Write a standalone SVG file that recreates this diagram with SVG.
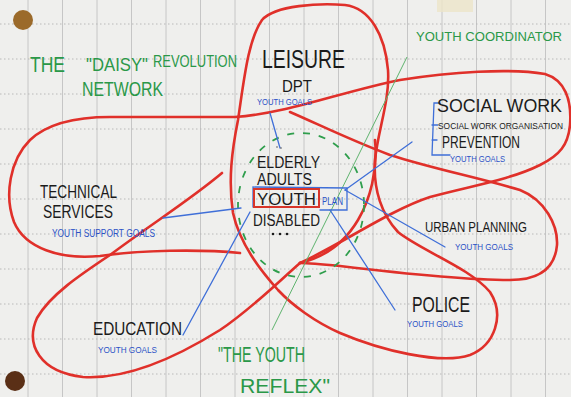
<svg xmlns="http://www.w3.org/2000/svg" width="571" height="397" viewBox="0 0 571 397">
<style>
.vl{stroke:#c6c6c6;stroke-width:1}
.hl{stroke:#b9b9b9;stroke-width:1;stroke-dasharray:1.5 2.5}
.petal{fill:none;stroke:#e0302a;stroke-width:2.6;stroke-linecap:round;stroke-linejoin:round}
.blue{fill:none;stroke:#3f6fd8;stroke-width:1.3;stroke-linecap:round}
.t{font-family:"Liberation Sans",Arial,sans-serif}
.k{fill:#1b1b1b}
.b{fill:#2c52c6}
.g{fill:#2a9848}
</style>
<rect width="571" height="397" fill="#efefed"/>
<g id="paper-grid">
<path class="vl" d="M28,0V397M62.5,0V397M97,0V397M131.5,0V397M166,0V397M200.5,0V397M235,0V397M269.5,0V397M304,0V397M338.5,0V397M373,0V397M407.5,0V397M442,0V397M476.5,0V397M511,0V397M545.5,0V397"/>
<path class="hl" d="M0,24H571M0,59H571M0,94H571M0,129H571M0,164H571M0,199H571M0,234H571M0,269H571M0,304H571M0,339H571M0,374H571"/>
<rect x="437" y="0" width="36" height="12" fill="#ece5c8" opacity="0.8"/>
<circle cx="23" cy="20" r="10" fill="#9b6a2a"/>
<circle cx="15" cy="381" r="10" fill="#5a2f16"/>
</g>
<g id="petals">
<path id="leisure-police" class="petal" d="M233,213 C228,180 232,150 238,120 C244,80 248,40 262,20 C275,5 320,3 345,5 C370,8 385,35 388,70 C390,100 378,130 375,160 C373,190 382,215 398,232 C420,250 470,268 490,292 C505,315 495,345 470,355 C440,365 380,350 340,333 C315,322 292,305 278,290 C262,272 240,245 233,213 Z"/>
<path id="tech-social" class="petal" d="M240,253 C200,249 140,250 100,256 C60,260 25,248 14,222 C4,195 10,160 30,140 C48,123 75,117 110,117 L235,117 C290,113 340,92 400,80 C450,72 510,68 545,74 C565,80 572,100 570,125 C568,145 560,155 540,165 C510,180 470,186 430,197 C390,210 340,245 300,263"/>
<path id="urban" class="petal" d="M290,112 C320,125 350,140 390,155 C430,168 480,178 520,190 C545,200 558,225 557,245 C555,268 540,280 510,280 C460,280 390,272 340,266 C320,264 305,263 300,263"/>
<path id="centre-right" class="petal" d="M375,140 C378,170 370,200 358,220 C345,242 325,257 300,263"/>
<path id="education" class="petal" d="M222,173 C190,200 150,225 110,255 C80,275 50,295 37,318 C25,345 40,372 83,377 C130,380 180,355 220,330 C250,310 275,285 300,263"/>
</g>
<ellipse id="target-circle" cx="301" cy="205" rx="63" ry="72" fill="none" stroke="#2f9e4c" stroke-width="1.8" stroke-dasharray="7 9"/>
<line x1="407" y1="57" x2="272" y2="330" stroke="#5fb36e" stroke-width="1"/>
<g id="connectors">
<line class="blue" x1="270" y1="113" x2="280" y2="148"/>
<path class="blue" d="M440,103 H434 L432,155 H450 M432,125 H438 M432,140 H437"/>
<line class="blue" x1="412" y1="142" x2="345" y2="190"/>
<path class="blue" d="M253,207 V187 L347,188 L347,210 H320"/>
<line class="blue" x1="163" y1="218" x2="241" y2="208"/>
<line class="blue" x1="250" y1="212" x2="183" y2="335"/>
<line class="blue" x1="345" y1="190" x2="445" y2="247"/>
<line class="blue" x1="330" y1="210" x2="395" y2="310"/>
</g>
<g id="title">
<text class="t g" x="30" y="72" font-size="22" textLength="35" lengthAdjust="spacingAndGlyphs">THE</text>
<text class="t g" x="86" y="71" font-size="18" textLength="62" lengthAdjust="spacingAndGlyphs">"DAISY"</text>
<text class="t g" x="153" y="67" font-size="16" textLength="84" lengthAdjust="spacingAndGlyphs">REVOLUTION</text>
<text class="t g" x="82" y="96" font-size="20" textLength="81" lengthAdjust="spacingAndGlyphs">NETWORK</text>
</g>
<g id="youth-coordinator">
<text class="t g" x="416" y="41" font-size="13" textLength="146" lengthAdjust="spacingAndGlyphs">YOUTH COORDINATOR</text>
</g>
<g id="leisure">
<text class="t k" x="262" y="68" font-size="26" textLength="83" lengthAdjust="spacingAndGlyphs">LEISURE</text>
<text class="t k" x="282" y="92" font-size="16" textLength="30" lengthAdjust="spacingAndGlyphs">DPT</text>
<text class="t b" x="257" y="105" font-size="9" textLength="55" lengthAdjust="spacingAndGlyphs">YOUTH GOALS</text>
</g>
<g id="social-work">
<text class="t k" x="437" y="112" font-size="18" textLength="125" lengthAdjust="spacingAndGlyphs">SOCIAL WORK</text>
<text class="t k" x="438" y="129" font-size="8.4" textLength="125" lengthAdjust="spacingAndGlyphs">SOCIAL WORK ORGANISATION</text>
<text class="t k" x="442" y="148" font-size="16" textLength="78" lengthAdjust="spacingAndGlyphs">PREVENTION</text>
<text class="t b" x="450" y="162" font-size="9" textLength="55" lengthAdjust="spacingAndGlyphs">YOUTH GOALS</text>
</g>
<g id="technical-services">
<text class="t k" x="40" y="198" font-size="18" textLength="77" lengthAdjust="spacingAndGlyphs">TECHNICAL</text>
<text class="t k" x="43" y="218" font-size="18" textLength="70" lengthAdjust="spacingAndGlyphs">SERVICES</text>
<text class="t b" x="52" y="237" font-size="10" textLength="103" lengthAdjust="spacingAndGlyphs">YOUTH SUPPORT GOALS</text>
</g>
<g id="target-groups">
<text class="t k" x="257" y="168" font-size="16" textLength="63" lengthAdjust="spacingAndGlyphs">ELDERLY</text>
<text class="t k" x="257" y="185" font-size="16" textLength="55" lengthAdjust="spacingAndGlyphs">ADULTS</text>
<rect x="254" y="189" width="65" height="18" fill="none" stroke="#d8352a" stroke-width="2"/>
<text class="t k" x="257" y="205" font-size="16" textLength="59" lengthAdjust="spacingAndGlyphs">YOUTH</text>
<text class="t b" x="322" y="205" font-size="10" textLength="21" lengthAdjust="spacingAndGlyphs">PLAN</text>
<text class="t k" x="253" y="226" font-size="16" textLength="67" lengthAdjust="spacingAndGlyphs">DISABLED</text>
<circle cx="273" cy="234" r="1.3" fill="#1b1b1b"/>
<circle cx="280" cy="234" r="1.3" fill="#1b1b1b"/>
<circle cx="287" cy="234" r="1.3" fill="#1b1b1b"/>
<circle cx="277" cy="147" r="0.8" fill="#555"/>
<circle cx="281" cy="148" r="0.8" fill="#555"/>
</g>
<g id="urban-planning">
<text class="t k" x="425" y="232" font-size="14" textLength="102" lengthAdjust="spacingAndGlyphs">URBAN PLANNING</text>
<text class="t b" x="455" y="250" font-size="9" textLength="58" lengthAdjust="spacingAndGlyphs">YOUTH GOALS</text>
</g>
<g id="police">
<text class="t k" x="412" y="312" font-size="22" textLength="58" lengthAdjust="spacingAndGlyphs">POLICE</text>
<text class="t b" x="407" y="327" font-size="9" textLength="56" lengthAdjust="spacingAndGlyphs">YOUTH GOALS</text>
</g>
<g id="education-label">
<text class="t k" x="93" y="335" font-size="18" textLength="89" lengthAdjust="spacingAndGlyphs">EDUCATION</text>
<text class="t b" x="98" y="353" font-size="9" textLength="59" lengthAdjust="spacingAndGlyphs">YOUTH GOALS</text>
</g>
<g id="youth-reflex">
<text class="t g" x="218" y="362" font-size="22" textLength="87" lengthAdjust="spacingAndGlyphs">"THE YOUTH</text>
<text class="t g" x="240" y="393" font-size="20" textLength="90" lengthAdjust="spacingAndGlyphs">REFLEX"</text>
</g>
</svg>
